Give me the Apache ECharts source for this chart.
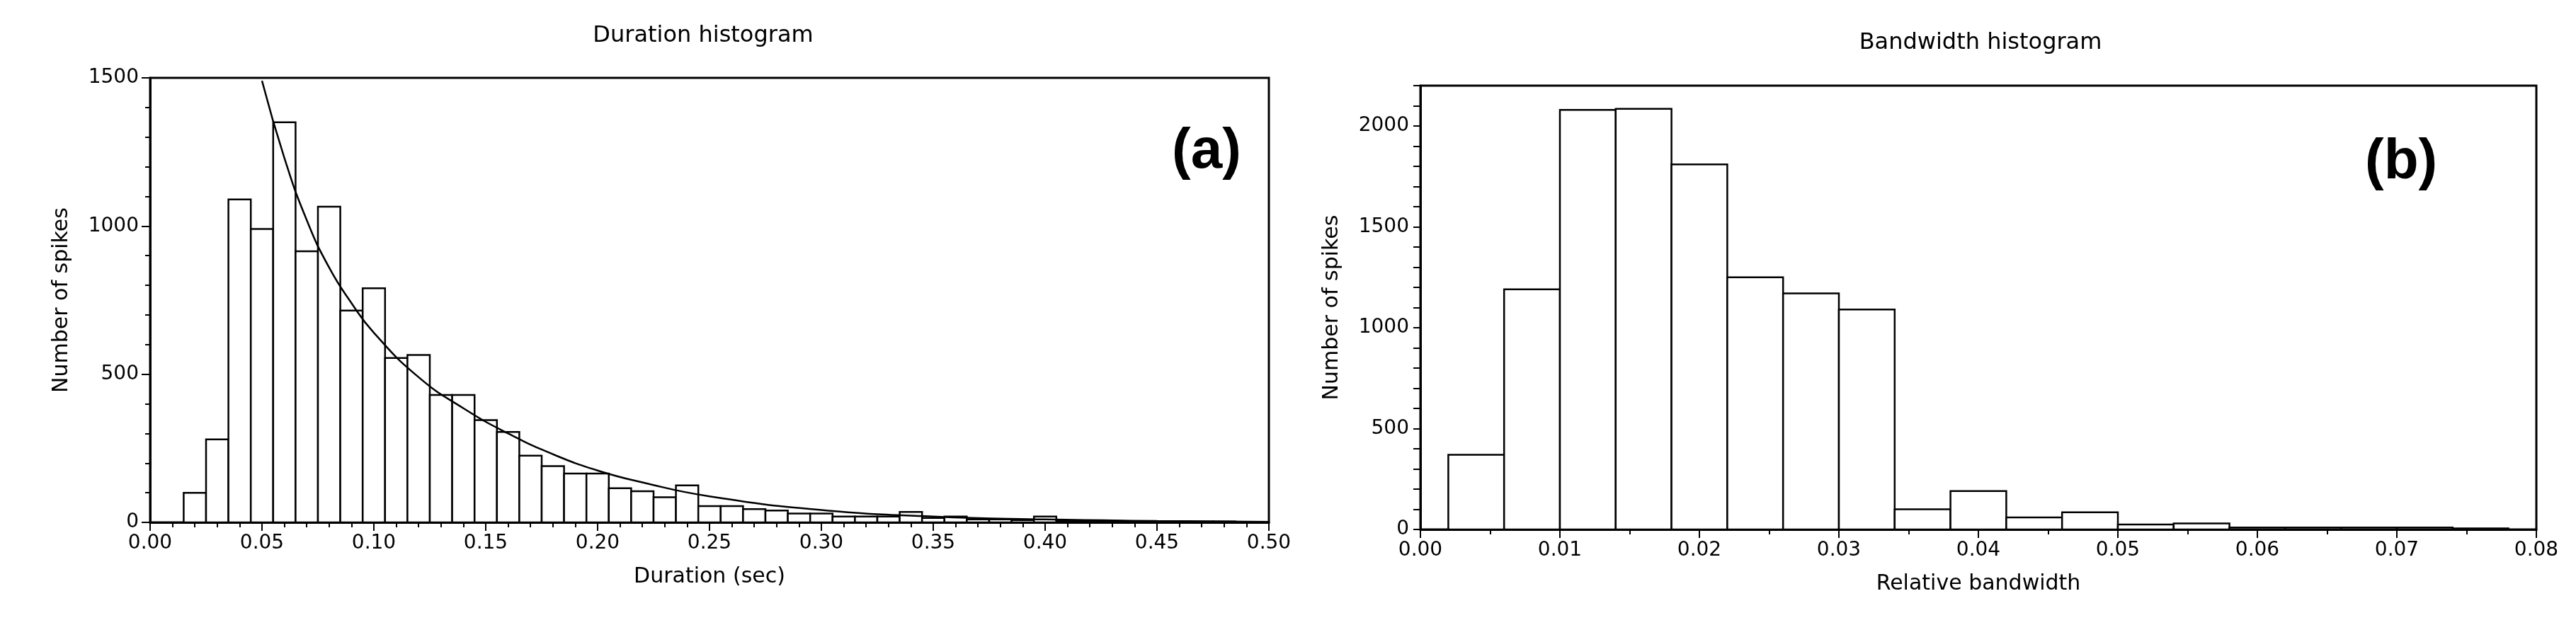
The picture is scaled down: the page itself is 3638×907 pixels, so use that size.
<!DOCTYPE html>
<html>
<head>
<meta charset="utf-8">
<script src="https://cdn.jsdelivr.net/npm/echarts@6/dist/echarts.min.js"></script>
<style>html,body{margin:0;background:#fff}#main{width:3638px;height:907px}</style>
</head>
<body>
<div id="main"></div>
<script>
// duration histogram, bins of 0.01 s starting at 0.015
var durStart = 0.015;
var durWidth = 0.01;
var durCounts = [100, 280, 1090, 990, 1350, 915, 1065, 715, 790, 555, 565, 430, 430, 345, 305, 225, 190, 165, 165, 115,
    105, 85, 125, 55, 55, 45, 40, 30, 30, 20, 20, 20, 35, 15, 20, 10, 10, 8, 20, 5, 5, 5, 4, 4, 3, 3, 3, 2];
// fitted decay curve
var fitX = [0.05, 0.06, 0.07, 0.08, 0.09, 0.10, 0.12, 0.14, 0.16, 0.18, 0.20, 0.22, 0.25, 0.30, 0.35, 0.40, 0.45, 0.50];
var fitY = [1490, 1230, 1020, 860, 740, 640, 490, 385, 300, 230, 175, 135, 88, 42, 20, 10, 5, 2];
// bandwidth histogram, bins of 0.004 starting at 0.002
var bwStart = 0.002;
var bwWidth = 0.004;
var bwCounts = [370, 1190, 2080, 2085, 1810, 1250, 1170, 1090, 100, 190, 60, 85, 25, 30, 10, 10, 10, 10, 5];

function binData(start, width, counts) {
    return counts.map(function (c, i) { return [start + i * width, start + (i + 1) * width, c]; });
}
function renderBin(params, api) {
    var p0 = api.coord([api.value(0), api.value(2)]);
    var p1 = api.coord([api.value(1), 0]);
    return {
        type: 'rect',
        shape: { x: p0[0], y: p0[1], width: p1[0] - p0[0], height: p1[1] - p0[1] },
        style: { fill: '#fff', stroke: '#000', lineWidth: 2.5 }
    };
}

var font = 'DejaVu Sans';
var tickLabel = { fontSize: 28, color: '#000', fontFamily: font, margin: 16 };
function xAxis(gi, max, interval, minor, name, fmt) {
    return {
        gridIndex: gi, type: 'value', min: 0, max: max, interval: interval,
        name: name, nameLocation: 'middle', nameGap: 62,
        nameTextStyle: { fontSize: 30, color: '#000', fontFamily: font },
        axisLine: { lineStyle: { color: '#000', width: 3 } },
        axisTick: { length: 12, lineStyle: { color: '#000', width: 2 } },
        minorTick: { show: true, splitNumber: minor, length: 7, lineStyle: { color: '#000', width: 2 } },
        splitLine: { show: false },
        axisLabel: Object.assign({ formatter: fmt }, tickLabel)
    };
}
function yAxis(gi, max, interval, name) {
    return {
        gridIndex: gi, type: 'value', min: 0, max: max, interval: interval,
        name: name, nameLocation: 'middle', nameGap: 110,
        nameTextStyle: { fontSize: 30, color: '#000', fontFamily: font },
        axisLine: { show: true, lineStyle: { color: '#000', width: 3 } },
        axisTick: { length: 12, lineStyle: { color: '#000', width: 2 } },
        minorTick: { show: true, splitNumber: 5, length: 7, lineStyle: { color: '#000', width: 2 } },
        splitLine: { show: false },
        axisLabel: Object.assign({
            formatter: function (v) { return (v % interval === 0) ? String(v) : ''; }
        }, tickLabel)
    };
}

var chart = echarts.init(document.getElementById('main'));
chart.setOption({
    backgroundColor: '#fff',
    animation: false,
    title: [
        { text: 'Duration histogram', left: 988, top: 30, textAlign: 'center',
          textStyle: { fontSize: 32, fontWeight: 'normal', fontFamily: font, color: '#000' } },
        { text: 'Bandwidth histogram', left: 2792, top: 40, textAlign: 'center',
          textStyle: { fontSize: 32, fontWeight: 'normal', fontFamily: font, color: '#000' } },
        { text: '(a)', left: 1650, top: 170,
          textStyle: { fontSize: 80, fontWeight: 'bold', fontFamily: 'Liberation Sans', color: '#000' } },
        { text: '(b)', left: 3335, top: 185,
          textStyle: { fontSize: 80, fontWeight: 'bold', fontFamily: 'Liberation Sans', color: '#000' } }
    ],
    grid: [
        { left: 212, right: 3638 - 1792, top: 110, bottom: 907 - 738, show: true, borderColor: '#000', borderWidth: 3 },
        { left: 2006, right: 3638 - 3582, top: 121, bottom: 907 - 748, show: true, borderColor: '#000', borderWidth: 3 }
    ],
    xAxis: [
        xAxis(0, 0.5, 0.05, 5, 'Duration (sec)', function (v) { return v.toFixed(2); }),
        xAxis(1, 0.08, 0.01, 2, 'Relative bandwidth', function (v) { return v.toFixed(2); })
    ],
    yAxis: [
        yAxis(0, 1500, 500, 'Number of spikes'),
        Object.assign(yAxis(1, 2200, 500, 'Number of spikes'), { interval: 100,
            axisLabel: Object.assign({ formatter: function (v) { return v % 500 === 0 ? String(v) : ''; } }, tickLabel),
            axisTick: { length: 10, lineStyle: { color: '#000', width: 2 } },
            minorTick: { show: false } })
    ],
    series: [
        { type: 'custom', xAxisIndex: 0, yAxisIndex: 0, renderItem: renderBin,
          encode: { x: [0, 1], y: 2 }, data: binData(durStart, durWidth, durCounts) },
        { type: 'line', xAxisIndex: 0, yAxisIndex: 0, smooth: true, showSymbol: false,
          lineStyle: { color: '#000', width: 2.5 },
          data: fitX.map(function (x, i) { return [x, fitY[i]]; }) },
        { type: 'custom', xAxisIndex: 1, yAxisIndex: 1, renderItem: renderBin,
          encode: { x: [0, 1], y: 2 }, data: binData(bwStart, bwWidth, bwCounts) }
    ]
});
</script>
</body>
</html>
